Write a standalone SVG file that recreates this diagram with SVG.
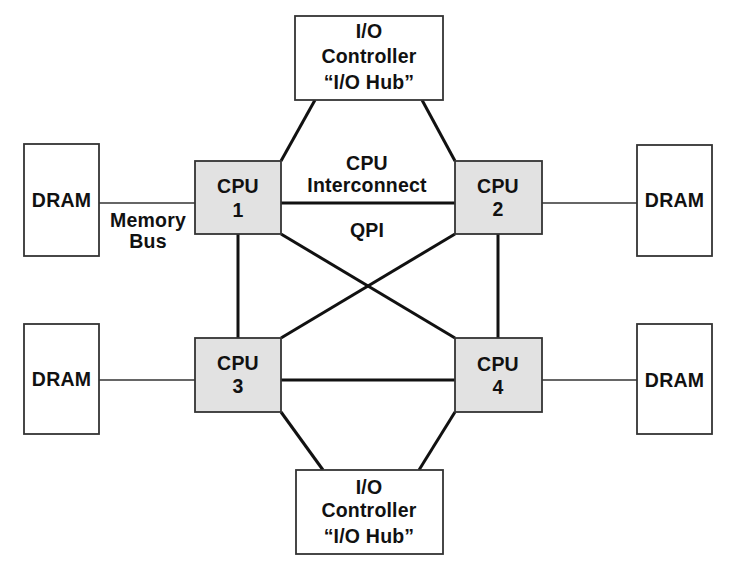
<svg xmlns="http://www.w3.org/2000/svg" width="738" height="566" viewBox="0 0 738 566">
<style>
.box{fill:#fff;stroke:#333;stroke-width:1.8}
.cpu{fill:#e2e2e2;stroke:#333;stroke-width:1.8}
.t{font-family:"Liberation Sans",Arial,sans-serif;font-weight:bold;font-size:19.5px;letter-spacing:0.2px;fill:#111;text-anchor:middle}
.thick{stroke:#111;stroke-width:3;fill:none}
.thin{stroke:#333;stroke-width:1.6;fill:none}
</style>
<rect width="738" height="566" fill="#fff"/>
<g id="connectors">
<line class="thick" x1="315" y1="100" x2="281" y2="161"/>
<line class="thick" x1="422" y1="100" x2="455" y2="161"/>
<line class="thick" x1="323" y1="470" x2="281" y2="412"/>
<line class="thick" x1="419" y1="470" x2="455" y2="412"/>
<line class="thick" x1="281" y1="203" x2="455" y2="203"/>
<line class="thick" x1="281" y1="380" x2="455" y2="380"/>
<line class="thick" x1="238" y1="234" x2="238" y2="338"/>
<line class="thick" x1="498" y1="234" x2="498" y2="338"/>
<line class="thick" x1="281" y1="234" x2="455" y2="338"/>
<line class="thick" x1="455" y1="234" x2="281" y2="338"/>
<line class="thin" x1="99" y1="203" x2="195" y2="203"/>
<line class="thin" x1="542" y1="203" x2="637" y2="203"/>
<line class="thin" x1="99" y1="380" x2="195" y2="380"/>
<line class="thin" x1="542" y1="380" x2="637" y2="380"/>
<text class="t" x="148" y="227">Memory</text>
<text class="t" x="148" y="248">Bus</text>
<text class="t" x="367" y="170">CPU</text>
<text class="t" x="367" y="192">Interconnect</text>
<text class="t" x="367" y="237">QPI</text>
</g>
<g id="io-top">
<rect class="box" x="295" y="16" width="148" height="84"/>
<text class="t" x="369" y="38">I/O</text>
<text class="t" x="369" y="63">Controller</text>
<text class="t" x="369" y="89">“I/O Hub”</text>
</g>
<g id="io-bottom">
<rect class="box" x="296" y="470" width="147" height="84"/>
<text class="t" x="369" y="494">I/O</text>
<text class="t" x="369" y="517">Controller</text>
<text class="t" x="369" y="543">“I/O Hub”</text>
</g>
<g id="cpu1">
<rect class="cpu" x="195" y="161" width="86" height="73"/>
<text class="t" x="238" y="193">CPU</text>
<text class="t" x="238" y="217">1</text>
</g>
<g id="cpu2">
<rect class="cpu" x="455" y="161" width="87" height="73"/>
<text class="t" x="498" y="193">CPU</text>
<text class="t" x="498" y="216">2</text>
</g>
<g id="cpu3">
<rect class="cpu" x="195" y="338" width="86" height="74"/>
<text class="t" x="238" y="370">CPU</text>
<text class="t" x="238" y="393">3</text>
</g>
<g id="cpu4">
<rect class="cpu" x="455" y="338" width="87" height="74"/>
<text class="t" x="498" y="371">CPU</text>
<text class="t" x="498" y="394">4</text>
</g>
<g id="dram1">
<rect class="box" x="24" y="144" width="75" height="112"/>
<text class="t" x="61.5" y="207">DRAM</text>
</g>
<g id="dram2">
<rect class="box" x="637" y="145" width="75" height="111"/>
<text class="t" x="674.5" y="207">DRAM</text>
</g>
<g id="dram3">
<rect class="box" x="24" y="324" width="75" height="110"/>
<text class="t" x="61.5" y="386">DRAM</text>
</g>
<g id="dram4">
<rect class="box" x="637" y="324" width="75" height="110"/>
<text class="t" x="674.5" y="387">DRAM</text>
</g>
</svg>
